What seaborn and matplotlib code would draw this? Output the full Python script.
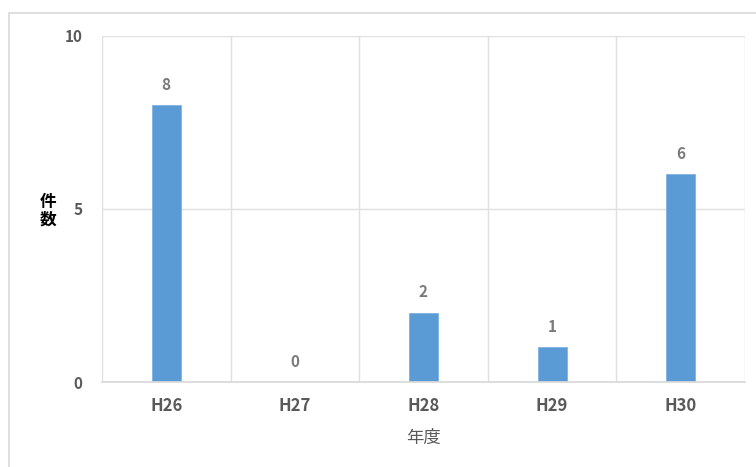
import matplotlib
matplotlib.use("Agg")
import matplotlib.pyplot as plt
from matplotlib.patches import Rectangle
import seaborn as sns
import pandas as pd

years = ["H26", "H27", "H28", "H29", "H30"]
counts = [8, 0, 2, 1, 6]
y_ticks = [0, 5, 10]

sns.set_theme(style="white")
plt.rcParams["font.family"] = ["Noto Sans CJK JP", "DejaVu Sans"]

df = pd.DataFrame({"year": years, "count": counts})

fig = plt.figure(figsize=(7.56, 4.67), dpi=100)
fig.patch.set_facecolor("white")
# outer chart frame
fig.patches.append(Rectangle((0.012, -0.2), 2.0, 0.972 + 0.2, transform=fig.transFigure,
                             fill=False, edgecolor="#D9D9D9", linewidth=1.2))

ax = fig.add_axes([0.1349, 0.182, 0.8505, 0.741])
bar_color = "#5B9BD5"
sns.barplot(data=df, x="year", y="count", color=bar_color, width=0.225,
            saturation=1, edgecolor="#7FB2E0", linewidth=0.6, ax=ax)

ax.set_ylim(0, 10)
ax.set_xlim(-0.5, len(years) - 0.5)
ax.set_yticks(y_ticks)
ax.set_yticklabels([str(t) for t in y_ticks], color="#595959", fontsize=11, fontweight="bold")
ax.set_xticks(range(len(years)))
ax.set_xticklabels(years, color="#595959", fontsize=12, fontweight="bold")
ax.tick_params(axis="both", length=0)
ax.tick_params(axis="y", pad=14)
ax.tick_params(axis="x", pad=11)

# grid: horizontal at y ticks, vertical at category boundaries
ax.set_xticks([i - 0.5 for i in range(len(years) + 1)], minor=True)
ax.grid(axis="y", which="major", color="#E0E0E0", linewidth=1)
ax.grid(axis="x", which="minor", color="#E0E0E0", linewidth=1)
ax.grid(axis="x", which="major", visible=False)
ax.set_axisbelow(True)
for side in ["top", "right", "left"]:
    ax.spines[side].set_visible(False)
ax.spines["bottom"].set_color("#D9D9D9")

for i, v in enumerate(counts):
    ax.annotate(str(v), (i, v), xytext=(0, 9), textcoords="offset points",
                ha="center", va="bottom", fontsize=11, color="#7A7A7A", fontweight="bold")

ax.set_xlabel("年度", color="#595959", fontsize=12.5, labelpad=10)
ax.set_ylabel("")
fig.text(48 / 756, 1 - 211 / 467, "件\n数", ha="center", va="center",
         fontsize=12, fontweight="bold", color="black", linespacing=1.0)

fig.savefig("out.png", dpi=100)
